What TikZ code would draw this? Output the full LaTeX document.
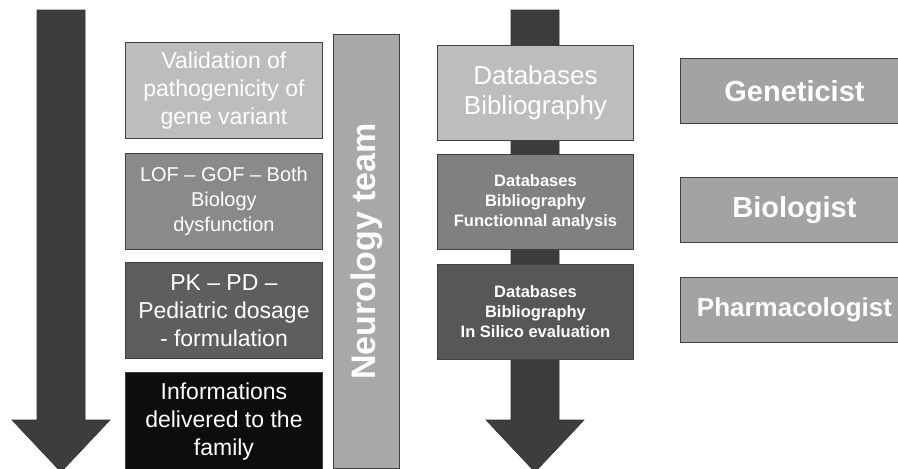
\documentclass[tikz,border=0pt]{standalone}
\usepackage{fontspec}
\setmainfont{Liberation Sans}
\begin{document}
\begin{tikzpicture}[x=1pt,y=-1pt,
  box/.style={draw=black!75, line width=0.9pt, text=white, align=center,
              inner sep=0pt, anchor=north west},
  arrowfill/.style={fill=black!76, draw=black!80, line width=0.6pt},
  txtA/.style={font=\fontsize{23}{28}\selectfont},
  txtB/.style={font=\fontsize{20}{25}\selectfont},
  txtC/.style={font=\fontsize{26}{30}\selectfont},
  txtD/.style={font=\bfseries\fontsize{16.5}{20}\selectfont},
  role/.style={box, fill=black!36, minimum width=228pt, minimum height=65pt,
               font=\bfseries\fontsize{29}{34}\selectfont}]
\useasboundingbox (0,0) rectangle (898,469);
\fill[white] (0,0) rectangle (898,469);

% time arrow on the left
\draw[arrowfill] (37,10) -- (85,10) -- (85,420) -- (110,420) -- (61,472)
  -- (12,420) -- (37,420) -- cycle;

% steps handled by the clinical side
\node[box, fill=black!26, minimum width=197pt, minimum height=96pt, txtA]
  (valid) at (125,42) {Validation of\\pathogenicity of\\gene variant};
\node[box, fill=black!46, minimum width=197pt, minimum height=96pt, txtB]
  (lof) at (125,153) {LOF -- GOF -- Both\\Biology\\dysfunction};
\node[box, fill=black!63, minimum width=197pt, minimum height=96pt, txtA]
  (pk) at (125,262) {PK -- PD --\\Pediatric dosage\\- formulation};
\node[box, fill=black!95, minimum width=197pt, minimum height=98pt, txtA]
  (info) at (125,372) {Informations\\delivered to the\\family};

% team column
\node[box, fill=black!34, minimum width=66pt, minimum height=434pt]
  (team) at (333,34) {};
\node[text=white, rotate=90, font=\bfseries\fontsize{34}{40}\selectfont]
  (teamlbl) at (team.center) {Neurology team};

% central arrow behind the resource boxes
\draw[arrowfill] (511,10) -- (559,10) -- (559,420) -- (584,420) -- (535,472)
  -- (486,420) -- (511,420) -- cycle;

\node[box, fill=black!26, minimum width=196pt, minimum height=95pt, txtC]
  (db1) at (437,45) {Databases\\Bibliography};
\node[box, fill=black!50, minimum width=196pt, minimum height=95pt, txtD]
  (db2) at (437,154) {Databases\\Bibliography\\Functionnal analysis};
\node[box, fill=black!66, minimum width=196pt, minimum height=95pt, txtD]
  (db3) at (437,264) {Databases\\Bibliography\\In Silico evaluation};

% experts
\node[role] (gen) at (680,58) {Geneticist};
\node[role] (bio) at (680,177) {Biologist};
\node[role, font=\bfseries\fontsize{26}{30}\selectfont] (pha) at (680,277) {Pharmacologist};
\end{tikzpicture}
\end{document}
